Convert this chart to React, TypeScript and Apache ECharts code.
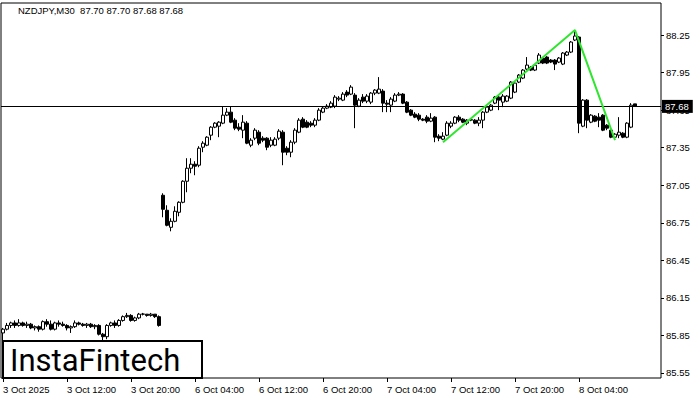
import React, { useEffect, useRef } from "react";
import * as echarts from "echarts";

const headerText = "NZDJPY,M30  87.70 87.70 87.68 87.68";
const logoText = "InstaFintech";

const xTickLabels = [
  "3 Oct 2025", "3 Oct 12:00", "3 Oct 20:00", "6 Oct 04:00", "6 Oct 12:00",
  "6 Oct 20:00", "7 Oct 04:00", "7 Oct 12:00", "7 Oct 20:00", "8 Oct 04:00",
];
const xTickEvery = 16;
const yTicks = [85.55, 85.85, 86.15, 86.45, 86.75, 87.05, 87.35, 87.65, 87.95, 88.25];
const yMin = 85.51;
const yMax = 88.506;

// trading sessions (M30 bars); firstSlot = half-hour slot of first bar
const sessions = [
  { day: "3 Oct", firstSlot: 8, bars: 40 },
  { day: "6 Oct", firstSlot: 0, bars: 48 },
  { day: "7 Oct", firstSlot: 0, bars: 48 },
  { day: "8 Oct", firstSlot: 0, bars: 29 },
];

// [open, close, low, high]
const oct3 = [
  [85.87, 85.90, 85.81, 85.91], [85.90, 85.93, 85.89, 85.95], [85.93, 85.95, 85.91, 85.96], [85.95, 85.93, 85.91, 85.97],
  [85.93, 85.95, 85.92, 85.98], [85.95, 85.93, 85.92, 85.96], [85.93, 85.94, 85.91, 85.96], [85.94, 85.91, 85.90, 85.95],
  [85.91, 85.92, 85.89, 85.93], [85.92, 85.90, 85.88, 85.93], [85.90, 85.96, 85.89, 85.97], [85.96, 85.94, 85.92, 85.98],
  [85.94, 85.90, 85.89, 85.97], [85.90, 85.95, 85.89, 85.96], [85.95, 85.94, 85.92, 85.97], [85.94, 85.93, 85.92, 85.96],
  [85.93, 85.91, 85.89, 85.94], [85.91, 85.92, 85.87, 85.93], [85.92, 85.95, 85.91, 85.97], [85.95, 85.94, 85.93, 85.96],
  [85.94, 85.93, 85.92, 85.95], [85.93, 85.94, 85.91, 85.95], [85.94, 85.92, 85.91, 85.95], [85.92, 85.93, 85.90, 85.94],
  [85.93, 85.86, 85.85, 85.94], [85.86, 85.84, 85.81, 85.87], [85.84, 85.93, 85.82, 85.94], [85.93, 85.95, 85.92, 85.96],
  [85.95, 85.93, 85.91, 85.97], [85.93, 85.97, 85.92, 85.98], [85.97, 86.00, 85.96, 86.01], [86.00, 86.01, 85.99, 86.03],
  [86.01, 85.97, 85.96, 86.02], [85.97, 85.99, 85.96, 86.00], [85.99, 86.02, 85.98, 86.03], [86.02, 86.021, 86.01, 86.03],
  [86.02, 86.01, 86.00, 86.02], [86.01, 86.02, 86.00, 86.03], [86.02, 86.00, 85.99, 86.02], [86.00, 85.93, 85.92, 86.01],
];
const oct6 = [
  [86.97, 86.858, 86.794, 86.986], [86.85, 86.73, 86.722, 86.89], [86.714, 86.762, 86.682, 86.786], [86.762, 86.842, 86.754, 86.882],
  [86.834, 86.914, 86.802, 86.922], [86.914, 87.082, 86.906, 87.09], [87.082, 87.186, 86.994, 87.266], [87.186, 87.218, 87.146, 87.266],
  [87.218, 87.202, 87.13, 87.242], [87.21, 87.346, 87.194, 87.362], [87.354, 87.386, 87.314, 87.402], [87.37, 87.434, 87.362, 87.442],
  [87.45, 87.514, 87.41, 87.522], [87.514, 87.546, 87.506, 87.554], [87.522, 87.554, 87.434, 87.562], [87.546, 87.61, 87.538, 87.682],
  [87.61, 87.634, 87.602, 87.666], [87.634, 87.554, 87.546, 87.682], [87.57, 87.506, 87.49, 87.586], [87.514, 87.498, 87.482, 87.546],
  [87.49, 87.554, 87.426, 87.61], [87.546, 87.386, 87.378, 87.562], [87.37, 87.41, 87.354, 87.426], [87.426, 87.49, 87.41, 87.506],
  [87.474, 87.386, 87.37, 87.49], [87.426, 87.41, 87.394, 87.442], [87.426, 87.354, 87.33, 87.434], [87.37, 87.41, 87.354, 87.434],
  [87.37, 87.418, 87.362, 87.434], [87.426, 87.482, 87.41, 87.498], [87.474, 87.314, 87.21, 87.49], [87.346, 87.314, 87.29, 87.362],
  [87.314, 87.394, 87.274, 87.41], [87.394, 87.49, 87.378, 87.506], [87.474, 87.57, 87.466, 87.586], [87.578, 87.514, 87.506, 87.594],
  [87.554, 87.514, 87.506, 87.57], [87.546, 87.53, 87.514, 87.562], [87.53, 87.57, 87.514, 87.586], [87.57, 87.65, 87.562, 87.666],
  [87.634, 87.666, 87.626, 87.682], [87.666, 87.682, 87.658, 87.698], [87.674, 87.706, 87.666, 87.722], [87.682, 87.754, 87.666, 87.77],
  [87.738, 87.746, 87.722, 87.762], [87.73, 87.778, 87.722, 87.794], [87.794, 87.77, 87.754, 87.81], [87.778, 87.834, 87.77, 87.85],
];
const oct7 = [
  [87.77, 87.69, 87.506, 87.786], [87.682, 87.73, 87.674, 87.746], [87.754, 87.722, 87.706, 87.778], [87.722, 87.762, 87.706, 87.778],
  [87.714, 87.786, 87.698, 87.794], [87.786, 87.81, 87.77, 87.818], [87.786, 87.818, 87.778, 87.914], [87.802, 87.706, 87.634, 87.818],
  [87.706, 87.698, 87.634, 87.73], [87.69, 87.738, 87.634, 87.754], [87.722, 87.77, 87.714, 87.786], [87.77, 87.778, 87.762, 87.794],
  [87.778, 87.706, 87.698, 87.786], [87.714, 87.634, 87.626, 87.722], [87.65, 87.61, 87.602, 87.658], [87.618, 87.594, 87.586, 87.634],
  [87.61, 87.578, 87.562, 87.626], [87.578, 87.57, 87.562, 87.586], [87.594, 87.562, 87.546, 87.61], [87.562, 87.586, 87.554, 87.626],
  [87.594, 87.434, 87.394, 87.602], [87.442, 87.426, 87.402, 87.458], [87.418, 87.442, 87.41, 87.474], [87.45, 87.546, 87.442, 87.562],
  [87.522, 87.546, 87.506, 87.562], [87.546, 87.594, 87.538, 87.602], [87.594, 87.57, 87.554, 87.61], [87.578, 87.554, 87.546, 87.586],
  [87.546, 87.57, 87.53, 87.578], [87.57, 87.574, 87.562, 87.578], [87.57, 87.546, 87.538, 87.578], [87.546, 87.57, 87.522, 87.594],
  [87.57, 87.634, 87.506, 87.642], [87.634, 87.674, 87.626, 87.682], [87.65, 87.69, 87.642, 87.698], [87.706, 87.754, 87.698, 87.762],
  [87.754, 87.73, 87.65, 87.762], [87.714, 87.762, 87.674, 87.778], [87.722, 87.762, 87.714, 87.77], [87.746, 87.874, 87.738, 87.882],
  [87.794, 87.866, 87.786, 87.874], [87.874, 87.93, 87.866, 87.938], [87.906, 87.97, 87.898, 87.978], [87.978, 88.01, 87.97, 88.074],
  [87.994, 87.97, 87.962, 88.002], [87.97, 88.01, 87.962, 88.018], [88.026, 88.09, 88.018, 88.106], [88.066, 88.026, 88.018, 88.074],
];
const oct8 = [
  [88.074, 88.026, 88.018, 88.082], [88.05, 88.034, 88.026, 88.058], [88.05, 88.018, 87.97, 88.058], [88.034, 88.066, 88.026, 88.074],
  [88.018, 88.106, 88.01, 88.114], [88.09, 88.114, 88.082, 88.122], [88.114, 88.194, 88.106, 88.202], [88.21, 88.242, 88.202, 88.29],
  [88.234, 87.546, 87.466, 88.242], [87.522, 87.73, 87.514, 87.738], [87.73, 87.57, 87.506, 87.738], [87.554, 87.61, 87.546, 87.618],
  [87.602, 87.562, 87.554, 87.61], [87.594, 87.57, 87.514, 87.626], [87.61, 87.49, 87.482, 87.618], [87.53, 87.506, 87.49, 87.538],
  [87.49, 87.434, 87.426, 87.498], [87.434, 87.458, 87.418, 87.466], [87.45, 87.474, 87.426, 87.594], [87.466, 87.434, 87.426, 87.474],
  [87.434, 87.546, 87.426, 87.554], [87.514, 87.69, 87.506, 87.706], [87.70, 87.68, 87.68, 87.70],
];

const lastPrice = 87.68;

// pattern line: bar index + price
const patternIdx = [110, 143, 153];
const patternPrice = [87.394, 88.29, 87.41];

const FONT = "Liberation Sans";

function buildCategories(): string[] {
  const out: string[] = [];
  sessions.forEach((s) => {
    for (let k = 0; k < s.bars; k++) {
      const slot = s.firstSlot + k;
      const hh = String(Math.floor(slot / 2)).padStart(2, "0");
      const mm = slot % 2 ? "30" : "00";
      out.push(`${s.day} ${hh}:${mm}`);
    }
  });
  return out;
}

export default function App() {
  const ref = useRef<HTMLDivElement>(null);

  useEffect(() => {
    if (!ref.current) return;
    const chart = echarts.init(ref.current, undefined, { renderer: "svg" });
    const categories = buildCategories();
    const ohlc = [...oct3, ...oct6, ...oct7, ...oct8];
    const tickInterval = (idx: number) =>
      idx % xTickEvery === 0 && idx / xTickEvery < xTickLabels.length;

    chart.setOption({
      animation: false,
      backgroundColor: "#fff",
      grid: {
        left: 1,
        right: 39,
        top: 3,
        bottom: 22,
        show: true,
        borderColor: "#000",
        borderWidth: 1,
        backgroundColor: "#fff",
      },
      xAxis: {
        type: "category",
        data: categories,
        boundaryGap: true,
        axisLine: { show: false },
        axisTick: {
          show: true,
          alignWithLabel: true,
          interval: tickInterval,
          length: 4,
          lineStyle: { color: "#000", width: 1 },
        },
        axisLabel: {
          interval: tickInterval,
          formatter: (_v: string, idx: number) => xTickLabels[idx / xTickEvery] ?? "",
          align: "left",
          margin: 6,
          color: "#000",
          fontFamily: FONT,
          fontSize: 9.5,
        },
        splitLine: { show: false },
      },
      yAxis: {
        type: "value",
        position: "right",
        min: yMin,
        max: yMax,
        axisLine: { show: false },
        axisTick: {
          show: true,
          length: 3,
          customValues: yTicks,
          lineStyle: { color: "#000", width: 1 },
        },
        axisLabel: {
          customValues: yTicks,
          formatter: (v: number) => v.toFixed(2),
          margin: 5,
          color: "#000",
          fontFamily: FONT,
          fontSize: 9.5,
        },
        splitLine: { show: false },
      },
      series: [
        {
          type: "candlestick",
          data: ohlc,
          barWidth: 3,
          itemStyle: {
            color: "#fff",
            color0: "#000",
            borderColor: "#000",
            borderColor0: "#000",
            borderColorDoji: "#000",
            borderWidth: 1,
          },
          markLine: {
            silent: true,
            symbol: ["none", "none"],
            data: [{ yAxis: lastPrice }],
            lineStyle: { color: "#000", width: 1, type: "solid" },
            label: {
              show: true,
              position: "end",
              formatter: lastPrice.toFixed(2),
              backgroundColor: "#000",
              color: "#fff",
              padding: [2, 4, 1, 3],
              fontFamily: FONT,
              fontSize: 9.5,
              distance: 1,
            },
          },
          z: 2,
        },
        {
          type: "line",
          data: patternIdx.map((i, k) => [i, patternPrice[k]]),
          showSymbol: false,
          lineStyle: { color: "#2ee62e", width: 2 },
          z: 5,
        },
      ],
      graphic: [
        {
          type: "text",
          left: 18,
          top: 5,
          style: { text: headerText, fontFamily: FONT, fontSize: 9.5, fill: "#000" },
          z: 10,
        },
        {
          type: "group",
          left: 2,
          top: 340,
          z: 20,
          children: [
            {
              type: "rect",
              shape: { x: 1, y: 1, width: 199, height: 37 },
              style: { fill: "#fff", stroke: "#000", lineWidth: 2 },
            },
            {
              type: "text",
              x: 8,
              y: 20,
              style: {
                text: logoText,
                fontFamily: "Roboto",
                fontWeight: "normal",
                fontSize: 31,
                fill: "#000",
                verticalAlign: "middle",
              },
            },
          ],
        },
      ],
    });
    return () => chart.dispose();
  }, []);

  return <div ref={ref} style={{ width: 700, height: 400, position: "absolute", left: 0, top: 0 }} />;
}
